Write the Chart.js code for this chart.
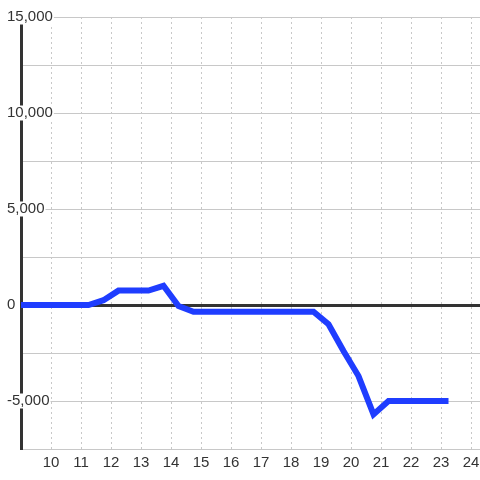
<!DOCTYPE html>
<html>
<head>
<meta charset="utf-8">
<script src="https://cdn.jsdelivr.net/npm/chart.js@4"></script>
<style>
  body { margin: 0; background: #fff; }
  canvas { display: block; }
</style>
</head>
<body>
<canvas id="balanceChart" width="480" height="480"></canvas>
<script>
// hour of day (half-hour steps) and balance at that time
const hours = [8.75, 9.25, 9.75, 10.25, 10.75, 11.25, 11.75, 12.25, 12.75, 13.25,
  13.75, 14.25, 14.75, 15.25, 15.75, 16.25, 16.75, 17.25, 17.75, 18.25,
  18.75, 19.25, 19.75, 20.25, 20.75, 21.25, 21.75, 22.25, 22.75, 23.25];
const balance = [0, 0, 0, 0, 0, 0, 250, 750, 750, 750,
  1000, -50, -350, -350, -350, -350, -350, -350, -350, -350,
  -350, -1000, -2400, -3700, -5700, -5000, -5000, -5000, -5000, -5000];

const xTicks = [10, 11, 12, 13, 14, 15, 16, 17, 18, 19, 20, 21, 22, 23, 24];
const yTicks = [-7500, -5000, -2500, 0, 2500, 5000, 7500, 10000, 12500, 15000];
const yTickLabels = ["", "-5,000", "", "0", "", "5,000", "", "10,000", "", "15,000"];

const labelFont = { family: "Liberation Sans", size: 15, lineHeight: 1 };
const yLabelShift = -14; // y labels sit left of the axis line

// white box behind the y labels so grid and axis lines stop at the text
const labelBackdrop = {
  id: "labelBackdrop",
  beforeDatasetsDraw(chart) {
    const scale = chart.scales.y;
    const c = chart.ctx;
    c.save();
    c.font = labelFont.size + "px " + labelFont.family;
    c.fillStyle = "#fff";
    scale.ticks.forEach((t, i) => {
      const txt = yTickLabels[i];
      if (!txt) return;
      const w = c.measureText(txt).width;
      const py = scale.getPixelForValue(t.value);
      c.fillRect(scale.right + yLabelShift - 1, py - 7.5, w + 2, 15);
    });
    c.restore();
  },
};

const ctx = document.getElementById("balanceChart");

new Chart(ctx, {
  type: "line",
  data: {
    datasets: [
      {
        data: hours.map((h, i) => ({ x: h, y: balance[i] })),
        borderColor: "#1f3dff",
        borderWidth: 6,
        pointRadius: 0,
        tension: 0,
        fill: false,
      },
    ],
  },
  plugins: [labelBackdrop],
  options: {
    responsive: false,
    animation: false,
    layout: { padding: { left: 5, top: 17, right: 0, bottom: 4 } },
    plugins: {
      legend: { display: false },
      tooltip: { enabled: false },
    },
    scales: {
      x: {
        type: "linear",
        min: 9,
        max: 24.3,
        afterBuildTicks: (scale) => {
          scale.ticks = xTicks.map((v) => ({ value: v }));
        },
        afterFit: (scale) => {
          scale.paddingLeft = 0;
          scale.paddingRight = 0;
        },
        grid: {
          color: "#c8c8c8",
          drawTicks: false,
        },
        border: { color: "#c8c8c8", width: 1, dash: [2, 3] },
        ticks: {
          padding: 6,
          color: "#333",
          font: labelFont,
          maxRotation: 0,
          autoSkip: false,
        },
      },
      y: {
        type: "linear",
        min: -7500,
        max: 15000,
        afterBuildTicks: (scale) => {
          scale.ticks = yTicks.map((v) => ({ value: v }));
        },
        afterFit: (scale) => {
          scale.width = 16;
        },
        grid: {
          color: (c) => (c.tick && c.tick.value === 0 ? "#333" : "#c8c8c8"),
          lineWidth: (c) => (c.tick && c.tick.value === 0 ? 3 : 1),
          drawTicks: false,
        },
        border: { color: "#333", width: 3 },
        ticks: {
          mirror: true,
          padding: yLabelShift,
          z: 1,
          color: "#333",
          font: labelFont,
          callback: (value, index) => yTickLabels[index],
        },
      },
    },
  },
});
</script>
</body>
</html>
